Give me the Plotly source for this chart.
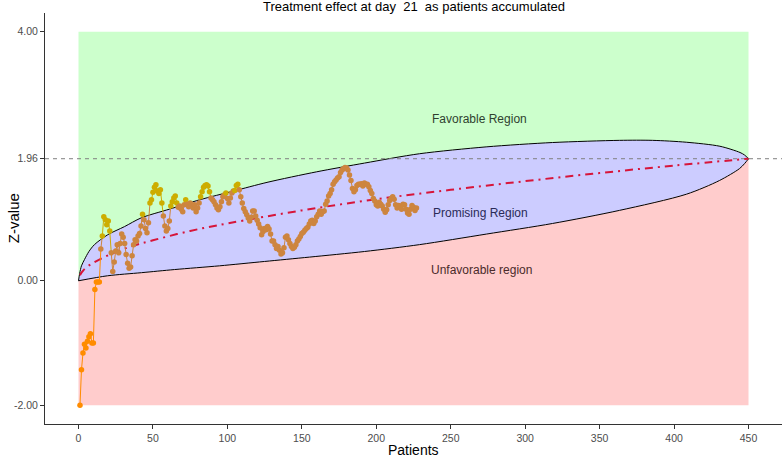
import numpy as np
import plotly.graph_objects as go

# ---------------- data ----------------
patients = list(range(1, 228))
z_values = [
    -2.00, -1.43, -1.16, -1.02, -1.08, -0.97, -0.90, -0.85, -1.00, -1.00, -0.14, -0.02, -0.02, -0.02,
    0.51, 0.72, 1.03, 0.98, 0.90, 0.96, 0.80,
    0.45, 0.15, 0.30, 0.48, 0.58, 0.45, 0.60, 0.75, 0.70, 0.60, 0.42, 0.28, 0.20, 0.22, 0.40, 0.58,
    0.66, 0.64, 0.72, 0.76, 0.88, 1.07, 0.98, 0.84, 0.77, 0.93,
    1.25, 1.30, 1.42, 1.50, 1.54, 1.44, 1.40, 1.46, 1.25, 1.04, 0.88, 0.80, 0.84, 0.96, 1.20,
    1.27, 1.33, 1.36, 1.25, 1.18, 1.20, 1.15, 1.11, 1.22, 1.30, 1.23, 1.19, 1.25, 1.22, 1.17, 1.22, 1.11, 1.17,
    1.25, 1.35, 1.43, 1.50, 1.53, 1.54, 1.52, 1.43, 1.33, 1.30, 1.27, 1.22, 1.17, 1.14, 1.19, 1.27, 1.35, 1.38, 1.41, 1.32,
    1.25, 1.33, 1.41, 1.44, 1.45, 1.53, 1.55, 1.46, 1.35, 1.25, 1.16, 1.11, 1.06, 1.01, 0.96, 1.02, 1.12, 1.12, 1.04, 0.97,
    0.91, 0.85, 0.74, 0.79, 0.84, 0.82, 0.87, 0.83, 0.75, 0.64, 0.64, 0.58, 0.52, 0.55, 0.49, 0.43, 0.45, 0.53, 0.70, 0.72,
    0.66, 0.60, 0.55, 0.52, 0.54, 0.58, 0.64, 0.67, 0.71, 0.76, 0.78, 0.81, 0.84, 0.86, 0.91, 0.96, 0.97, 0.92, 0.96, 1.03,
    1.07, 1.12, 1.07, 1.11, 1.12, 1.23, 1.28, 1.36, 1.40, 1.46, 1.55, 1.59, 1.62, 1.65, 1.67, 1.74, 1.78, 1.80, 1.82, 1.81,
    1.78, 1.70, 1.61, 1.48, 1.43, 1.46, 1.53, 1.55, 1.55, 1.56, 1.52, 1.57, 1.55, 1.55, 1.51, 1.45, 1.40, 1.32, 1.28, 1.22,
    1.20, 1.26, 1.23, 1.20, 1.15, 1.10, 1.14, 1.22, 1.29, 1.32, 1.35, 1.31, 1.22, 1.17, 1.21, 1.20, 1.15, 1.23, 1.22, 1.15,
    1.09, 1.07, 1.15, 1.21, 1.18, 1.13, 1.17,
]

upper_n = [0, 0.8, 2, 4, 7, 10.7, 19.7, 30.9, 42.1, 61.1, 81.3, 104, 126.6, 160, 192.1, 229,
           273.8, 318.4, 363.4, 385.5, 408.2, 430.8, 444.3, 447.3, 450]
upper_z = [0, 0.12, 0.24, 0.34, 0.47, 0.58, 0.74, 0.87, 1.01, 1.15, 1.30, 1.44, 1.58, 1.75, 1.89, 2.04,
           2.15, 2.22, 2.255, 2.255, 2.225, 2.16, 2.06, 2.02, 1.96]

lower_n = [0, 19.5, 42.3, 64.5, 94.7, 124.9, 155.1, 192.1, 229.0, 274.0, 318.4, 363.3, 408.3,
           430.5, 443.9, 447.3, 450]
lower_z = [0, 0.08, 0.13, 0.18, 0.24, 0.31, 0.38, 0.47, 0.58, 0.75, 0.92, 1.13, 1.39,
           1.61, 1.80, 1.88, 1.96]

expected_n = [1, 2, 3, 5, 10, 20, 35, 50, 75, 100, 150, 200, 250, 300, 350, 400, 450]
expected_z = [0.09, 0.13, 0.16, 0.21, 0.29, 0.41, 0.55, 0.65, 0.80, 0.92, 1.13, 1.31, 1.46, 1.60, 1.73, 1.85, 1.96]

x_ticks = [0, 50, 100, 150, 200, 250, 300, 350, 400, 450]
y_ticks = [-2.0, 0.0, 1.96, 4.0]
y_tick_labels = ["-2.00", "0.00", "1.96", "4.00"]
z_crit = 1.96
region_top, region_bottom, n_max = 4.0, -2.0, 450

# ---------------- styling ----------------
C_GREEN, C_PINK, C_BLUE = "rgb(204,255,204)", "rgb(255,204,204)", "rgb(204,204,255)"
C_FAV, C_PRO, C_UNF = "#CDAD00", "#CD853F", "#FF8C00"
FONT = "Liberation Sans, Arial, sans-serif"

# category of each point (relative to the promising-region boundaries)
cats = []
for n, z in zip(patients, z_values):
    u = np.interp(n, upper_n, upper_z)
    l = np.interp(n, lower_n, lower_z)
    cats.append("fav" if z > u else ("unf" if z < l else "pro"))
cat_color = {"fav": C_FAV, "pro": C_PRO, "unf": C_UNF}

fig = go.Figure()

# green favorable region
fig.add_trace(go.Scatter(x=upper_n + [n_max, 0], y=upper_z + [region_top, region_top],
                         fill="toself", fillcolor=C_GREEN, mode="lines", line=dict(width=0),
                         hoverinfo="skip", showlegend=False))
# pink unfavorable region
fig.add_trace(go.Scatter(x=lower_n + [n_max, 0], y=lower_z + [region_bottom, region_bottom],
                         fill="toself", fillcolor=C_PINK, mode="lines", line=dict(width=0),
                         hoverinfo="skip", showlegend=False))
# blue promising region
fig.add_trace(go.Scatter(x=upper_n + lower_n[::-1][1:], y=upper_z + lower_z[::-1][1:],
                         fill="toself", fillcolor=C_BLUE, mode="lines", line=dict(width=0),
                         hoverinfo="skip", showlegend=False))
# black outline of the promising region (smoothed)
for bx, by in [(upper_n, upper_z), (lower_n, lower_z)]:
    fig.add_trace(go.Scatter(x=bx, y=by, mode="lines",
                             line=dict(color="black", width=1, shape="spline", smoothing=0.8),
                             hoverinfo="skip", showlegend=False))
# critical value line
fig.add_trace(go.Scatter(x=[-22.5, 472.5], y=[z_crit, z_crit], mode="lines",
                         line=dict(color="#7F7F7F", width=1, dash="4px,4px"),
                         hoverinfo="skip", showlegend=False))
# expected trajectory
fig.add_trace(go.Scatter(x=expected_n, y=expected_z, mode="lines",
                         line=dict(color="#D7153A", width=2, dash="8px,5px,2px,5px", shape="spline"),
                         hoverinfo="skip", showlegend=False))

# path segments coloured by the starting point's category
for key in ["unf", "pro", "fav"]:
    xs, ys = [], []
    for i in range(len(patients) - 1):
        if cats[i] == key:
            xs += [patients[i], patients[i + 1], None]
            ys += [z_values[i], z_values[i + 1], None]
    fig.add_trace(go.Scatter(x=xs, y=ys, mode="lines", line=dict(color=cat_color[key], width=1),
                             hoverinfo="skip", showlegend=False))

fig.add_trace(go.Scatter(x=patients, y=z_values, mode="markers",
                         marker=dict(size=5.5, color=[cat_color[c] for c in cats], line=dict(width=0)),
                         showlegend=False))

# region labels
fig.add_annotation(x=269, y=2.60, text="Favorable Region", showarrow=False,
                   font=dict(family=FONT, size=12, color="#2F3F2F"))
fig.add_annotation(x=270, y=1.09, text="Promising Region", showarrow=False,
                   font=dict(family=FONT, size=12, color="#2A2A58"))
fig.add_annotation(x=271, y=0.18, text="Unfavorable region", showarrow=False,
                   font=dict(family=FONT, size=12, color="#4A2A2A"))

# title and axis titles
fig.add_annotation(xref="paper", yref="paper", x=0.5, y=1.0, yanchor="middle", yshift=7,
                   text="Treatment effect at day\u00a0 21\u00a0 as patients accumulated",
                   showarrow=False, font=dict(family=FONT, size=13, color="black"))
fig.add_annotation(xref="paper", yref="paper", x=0.5, y=-0.0633, yanchor="middle",
                   text="Patients", showarrow=False, font=dict(family=FONT, size=14, color="black"))
fig.add_annotation(xref="paper", yref="paper", x=-0.0425, y=0.5, xanchor="center",
                   text="Z-value", textangle=-90, showarrow=False,
                   font=dict(family=FONT, size=15, color="black"))

fig.update_layout(
    width=784, height=460,
    margin=dict(l=45, r=2, t=13, b=36),
    paper_bgcolor="white", plot_bgcolor="white",
    showlegend=False,
    xaxis=dict(range=[-22.5, 472.5], tickvals=x_ticks, showgrid=False, zeroline=False,
               showline=True, linecolor="#333333", linewidth=1, ticks="outside", ticklen=4,
               tickcolor="#333333", tickfont=dict(family=FONT, size=10.5, color="#4D4D4D")),
    yaxis=dict(range=[-2.3, 4.3], tickvals=y_ticks, ticktext=y_tick_labels, showgrid=False,
               zeroline=False, showline=True, linecolor="#333333", linewidth=1, ticks="outside",
               ticklen=4, tickcolor="#333333", tickfont=dict(family=FONT, size=10.5, color="#4D4D4D")),
)

fig.write_html("out.html", config={"displayModeBar": False},
               post_script="document.body.style.margin='0';document.body.style.overflow='hidden';")
